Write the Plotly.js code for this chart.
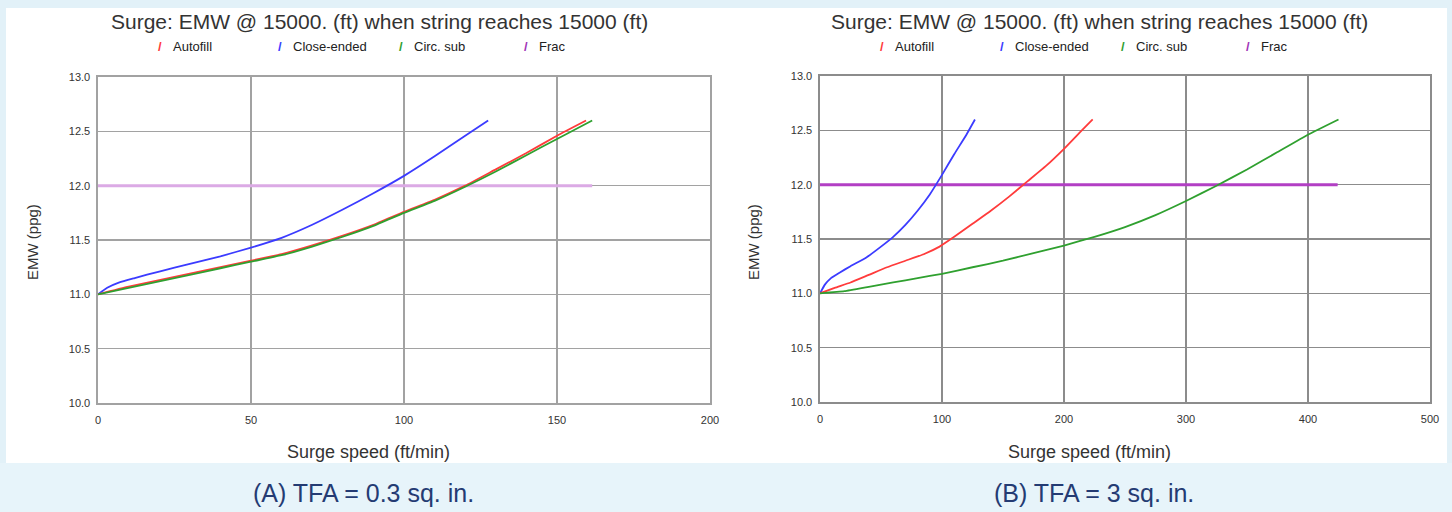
<!DOCTYPE html>
<html>
<head>
<meta charset="utf-8">
<script src="https://cdn.plot.ly/plotly-3.0.1.min.js"></script>
<style>
  html, body { margin: 0; padding: 0; background: #e2f1f8; }
  #chart { width: 1452px; height: 512px; }
</style>
</head>
<body>
<div id="chart"></div>
<script>
// ---- Panel A: TFA = 0.3 sq. in. ----
const speedA_autofill = [0, 10, 20, 30, 40, 50, 60, 70, 80, 90, 100, 110, 120, 130, 140, 150, 159.5];
const emwA_autofill   = [11.00, 11.07, 11.13, 11.19, 11.25, 11.31, 11.37, 11.45, 11.54, 11.64, 11.76, 11.87, 12.00, 12.15, 12.30, 12.46, 12.60];
const speedA_closed   = [0, 3, 7, 12, 20, 30, 40, 50, 60, 70, 80, 90, 100, 110, 120, 127.5];
const emwA_closed     = [11.00, 11.06, 11.11, 11.15, 11.21, 11.28, 11.35, 11.43, 11.52, 11.64, 11.78, 11.93, 12.09, 12.27, 12.46, 12.60];
const speedA_circ     = [0, 10, 20, 30, 40, 50, 60, 70, 80, 90, 100, 110, 120, 130, 140, 150, 161.5];
const emwA_circ       = [11.00, 11.06, 11.12, 11.18, 11.24, 11.30, 11.36, 11.44, 11.53, 11.63, 11.75, 11.86, 11.99, 12.13, 12.28, 12.43, 12.60];
const speedA_frac     = [0, 161.5];
const emwA_frac       = [12.0, 12.0];

// ---- Panel B: TFA = 3 sq. in. ----
const speedB_autofill = [0, 12, 25, 40, 55, 70, 85, 98, 110, 125, 140, 155, 170, 185, 200, 214.6, 223.5];
const emwB_autofill   = [11.00, 11.05, 11.10, 11.17, 11.24, 11.30, 11.36, 11.43, 11.52, 11.64, 11.76, 11.89, 12.03, 12.17, 12.33, 12.50, 12.60];
const speedB_closed   = [0, 4, 9, 16, 25, 38, 50, 60, 70, 80, 90, 100, 110, 120, 127];
const emwB_closed     = [11.00, 11.08, 11.14, 11.19, 11.25, 11.33, 11.43, 11.52, 11.63, 11.76, 11.91, 12.09, 12.28, 12.46, 12.60];
const speedB_circ     = [0, 20, 40, 60, 80, 100, 125, 150, 175, 200, 225, 250, 275, 300, 325, 350, 375, 400, 425];
const emwB_circ       = [11.00, 11.02, 11.06, 11.10, 11.14, 11.18, 11.24, 11.30, 11.37, 11.44, 11.52, 11.61, 11.72, 11.85, 11.99, 12.14, 12.30, 12.46, 12.60];
const speedB_frac     = [0, 424.3];
const emwB_frac       = [12.0, 12.0];

const seriesNames = ['Autofill', 'Close-ended', 'Circ. sub', 'Frac'];
const chartTitle = 'Surge: EMW @ 15000. (ft) when string reaches 15000 (ft)';
const xTitle = 'Surge speed (ft/min)';
const yTitle = 'EMW (ppg)';
const captionA = '(A) TFA = 0.3 sq. in.';
const captionB = '(B) TFA = 3 sq. in.';
const ticksA = [0, 50, 100, 150, 200];
const ticksB = [0, 100, 200, 300, 400, 500];

// ---- geometry helpers (pixel -> paper fraction) ----
const W = 1452, H = 512;
const fx = p => p / W;
const fy = p => 1 - p / H;

const RED = '#ff3b3b', BLUE = '#3b3bff', GREEN = '#2fa02f';
const FONT = 'Liberation Sans, Arial, sans-serif';

function line(x, y, color, width, xa, ya) {
  return { x: x, y: y, type: 'scatter', mode: 'lines', xaxis: xa, yaxis: ya,
           line: { color: color, width: width, shape: 'spline', smoothing: 0.4 },
           hoverinfo: 'x+y', showlegend: false };
}

const data = [
  line(speedA_frac, emwA_frac, '#dbaae5', 3, 'x', 'y'),
  line(speedA_closed, emwA_closed, BLUE, 1.8, 'x', 'y'),
  line(speedA_autofill, emwA_autofill, RED, 1.8, 'x', 'y'),
  line(speedA_circ, emwA_circ, GREEN, 1.8, 'x', 'y'),
  line(speedB_frac, emwB_frac, '#b23fc4', 3, 'x2', 'y2'),
  line(speedB_closed, emwB_closed, BLUE, 1.8, 'x2', 'y2'),
  line(speedB_autofill, emwB_autofill, RED, 1.8, 'x2', 'y2'),
  line(speedB_circ, emwB_circ, GREEN, 1.8, 'x2', 'y2')
];
data.forEach((t, i) => { t.name = seriesNames[[3, 1, 0, 2][i % 4]]; });

function xAxis(domain, range, ticks, anchor, grid) {
  return { domain: domain, range: range, tickvals: ticks, anchor: anchor,
           showgrid: true, gridcolor: grid, gridwidth: 1.6,
           showline: true, mirror: true, linecolor: grid, linewidth: 1.6,
           zeroline: false, ticks: '', ticklabelstandoff: 6,
           tickfont: { family: FONT, size: 11, color: '#333' }, fixedrange: true };
}
function yAxis(domain, anchor, grid) {
  return { domain: domain, range: [10, 13], dtick: 0.5, tick0: 10, tickformat: '.1f', anchor: anchor,
           showgrid: true, gridcolor: grid, gridwidth: 1.6,
           showline: true, mirror: true, linecolor: grid, linewidth: 1.6,
           zeroline: false, ticks: '', ticklabelstandoff: 4,
           tickfont: { family: FONT, size: 11, color: '#333' }, fixedrange: true };
}

const ann = [];
function text(t, px, py, size, color, opts) {
  ann.push(Object.assign({ text: t, xref: 'paper', yref: 'paper', x: fx(px), y: fy(py),
    xanchor: 'center', yanchor: 'middle', showarrow: false,
    font: { family: FONT, size: size, color: color } }, opts || {}));
}

// titles, legend rows and axis titles for both panels
const legendColors = [RED, BLUE, GREEN, '#a233b8'];
const legendLeft = [171, 291, 412, 537];
[[0, 380, 368, 32], [722, 1099, 1089, 753]].forEach(([dx, tcx, xcx, ycx]) => {
  text(chartTitle, tcx, 21, 21, '#333');
  seriesNames.forEach((n, i) => {
    text('<b>/</b>', legendLeft[i] + dx - 11, 46, 13, legendColors[i]);
    text(n, legendLeft[i] + dx, 46, 13, '#222', { xanchor: 'left' });
  });
  text(xTitle, xcx, 452, 18, '#333');
  text(yTitle, ycx, 242, 15, '#333', { textangle: -90 });
});
text(captionA, 363, 493, 25, '#243b73');
text(captionB, 1094, 493, 25, '#243b73');

const layout = {
  width: W, height: H,
  margin: { l: 0, r: 0, t: 0, b: 0 },
  paper_bgcolor: '#e2f1f8', plot_bgcolor: '#ffffff',
  showlegend: false,
  xaxis: xAxis([fx(98), fx(710)], [0, 200], ticksA, 'y', '#a2a2a2'),
  yaxis: yAxis([fy(403), fy(77)], 'x', '#a2a2a2'),
  xaxis2: xAxis([fx(820), fx(1430)], [0, 500], ticksB, 'y2', '#8c8c8c'),
  yaxis2: yAxis([fy(402), fy(76)], 'x2', '#8c8c8c'),
  shapes: [
    { type: 'rect', xref: 'paper', yref: 'paper', layer: 'below',
      x0: fx(6), x1: fx(1447), y0: fy(463), y1: fy(8),
      fillcolor: '#ffffff', line: { width: 0 } },
    { type: 'rect', xref: 'paper', yref: 'paper', layer: 'below',
      x0: 0, x1: 1, y0: 0, y1: fy(463),
      fillcolor: '#e7f4fa', line: { width: 0 } }
  ],
  annotations: ann
};

Plotly.newPlot('chart', data, layout, { displayModeBar: false, staticPlot: true });
</script>
</body>
</html>
